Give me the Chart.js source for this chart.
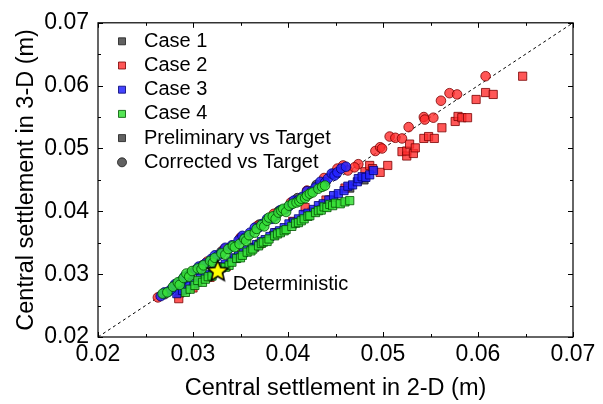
<!DOCTYPE html>
<html>
<head>
<meta charset="utf-8">
<script src="https://cdn.jsdelivr.net/npm/chart.js@4.4.1/dist/chart.umd.min.js"></script>
<style>
  body { margin: 0; background: #fff; }
  canvas { display: block; }
</style>
</head>
<body>
<canvas id="chart" width="603" height="404"></canvas>
<script>
  // [2-D settlement, 3-D settlement] pairs, in metres
  const case1Pre = [[0.0286,0.0270],[0.0305,0.0288],[0.0325,0.0306],[0.0345,0.0325],[0.0365,0.0343],[0.0385,0.0362],[0.0405,0.0380],[0.0425,0.0399],[0.0445,0.0418],[0.0465,0.0437],[0.0480,0.0450]];
  const case1Cor = [[0.0270,0.0268],[0.0290,0.0291],[0.0310,0.0314],[0.0330,0.0336],[0.0350,0.0357],[0.0370,0.0379],[0.0390,0.0400],[0.0410,0.0421],[0.0430,0.0442],[0.0448,0.0460]];

  const case2Pre = [[0.0285,0.0261],[0.0300,0.0278],[0.0318,0.0295],[0.0335,0.0312],[0.0351,0.0332],[0.0370,0.0348],[0.0388,0.0366],[0.0405,0.0384],[0.0418,0.0406],[0.0440,0.0418],[0.0460,0.0437],[0.0481,0.0463],[0.0486,0.0473],[0.0489,0.0468],[0.0497,0.0462],[0.0505,0.0473],[0.0520,0.0495],[0.0525,0.0488],[0.0525,0.0496],[0.0528,0.0507],[0.0532,0.0492],[0.0534,0.0501],[0.0543,0.0516],[0.0548,0.0519],[0.0554,0.0516],[0.0562,0.0533],[0.0576,0.0543],[0.0579,0.0551],[0.0583,0.0549],[0.0589,0.0549],[0.0598,0.0578],[0.0608,0.0589],[0.0616,0.0586],[0.0647,0.0615]];
  const case2Cor = [[0.0263,0.0263],[0.0280,0.0281],[0.0298,0.0302],[0.0315,0.0320],[0.0333,0.0340],[0.0350,0.0358],[0.0368,0.0377],[0.0385,0.0396],[0.0403,0.0414],[0.0420,0.0433],[0.0438,0.0453],[0.0452,0.0468],[0.0458,0.0473],[0.0463,0.0465],[0.0474,0.0475],[0.0470,0.0470],[0.0492,0.0496],[0.0497,0.0502],[0.0499,0.0500],[0.0507,0.0519],[0.0513,0.0517],[0.0520,0.0516],[0.0527,0.0534],[0.0543,0.0550],[0.0544,0.0546],[0.0553,0.0549],[0.0561,0.0576],[0.0570,0.0588],[0.0578,0.0586],[0.0608,0.0615]];

  const case3Pre = [[0.0283,0.0269],[0.0289,0.0274],[0.0293,0.0276],[0.0296,0.0281],[0.0301,0.0285],[0.0308,0.0293],[0.0313,0.0297],[0.0317,0.0299],[0.0321,0.0304],[0.0326,0.0309],[0.0330,0.0312],[0.0334,0.0316],[0.0340,0.0321],[0.0344,0.0326],[0.0348,0.0329],[0.0353,0.0334],[0.0357,0.0338],[0.0362,0.0342],[0.0367,0.0347],[0.0372,0.0352],[0.0376,0.0355],[0.0381,0.0360],[0.0386,0.0366],[0.0391,0.0369],[0.0396,0.0374],[0.0401,0.0380],[0.0406,0.0383],[0.0411,0.0388],[0.0416,0.0395],[0.0421,0.0397],[0.0427,0.0403],[0.0432,0.0409],[0.0437,0.0412],[0.0443,0.0418],[0.0448,0.0425],[0.0453,0.0428],[0.0459,0.0433],[0.0463,0.0440],[0.0468,0.0442],[0.0473,0.0447],[0.0474,0.0452],[0.0478,0.0455],[0.0482,0.0454],[0.0486,0.0458],[0.0490,0.0465]];
  const case3Cor = [[0.0266,0.0265],[0.0270,0.0271],[0.0274,0.0272],[0.0277,0.0276],[0.0281,0.0284],[0.0284,0.0285],[0.0288,0.0290],[0.0291,0.0296],[0.0295,0.0298],[0.0297,0.0300],[0.0303,0.0307],[0.0306,0.0312],[0.0309,0.0311],[0.0313,0.0317],[0.0319,0.0324],[0.0323,0.0330],[0.0326,0.0329],[0.0330,0.0334],[0.0334,0.0342],[0.0338,0.0341],[0.0341,0.0346],[0.0348,0.0354],[0.0352,0.0361],[0.0355,0.0358],[0.0360,0.0366],[0.0365,0.0374],[0.0369,0.0374],[0.0373,0.0380],[0.0378,0.0388],[0.0383,0.0388],[0.0387,0.0393],[0.0392,0.0402],[0.0397,0.0403],[0.0401,0.0408],[0.0406,0.0417],[0.0411,0.0418],[0.0415,0.0423],[0.0420,0.0432],[0.0425,0.0432],[0.0429,0.0438],[0.0434,0.0447],[0.0439,0.0446],[0.0442,0.0452],[0.0446,0.0460],[0.0449,0.0457],[0.0452,0.0462],[0.0456,0.0468],[0.0461,0.0471]];

  const case4Pre = [[0.0292,0.0271],[0.0297,0.0276],[0.0302,0.0282],[0.0305,0.0290],[0.0310,0.0287],[0.0313,0.0292],[0.0316,0.0296],[0.0320,0.0297],[0.0327,0.0304],[0.0330,0.0310],[0.0334,0.0311],[0.0338,0.0314],[0.0341,0.0319],[0.0346,0.0325],[0.0350,0.0326],[0.0352,0.0330],[0.0357,0.0335],[0.0361,0.0337],[0.0363,0.0340],[0.0369,0.0345],[0.0372,0.0349],[0.0374,0.0351],[0.0378,0.0352],[0.0380,0.0356],[0.0386,0.0361],[0.0389,0.0364],[0.0392,0.0366],[0.0396,0.0369],[0.0398,0.0371],[0.0404,0.0376],[0.0408,0.0381],[0.0411,0.0382],[0.0414,0.0385],[0.0417,0.0388],[0.0421,0.0392],[0.0423,0.0393],[0.0429,0.0398],[0.0432,0.0401],[0.0435,0.0402],[0.0438,0.0407],[0.0441,0.0406],[0.0444,0.0411],[0.0447,0.0409],[0.0450,0.0413],[0.0455,0.0412],[0.0460,0.0415],[0.0465,0.0417]];
  const case4Cor = [[0.0268,0.0269],[0.0273,0.0271],[0.0279,0.0280],[0.0284,0.0287],[0.0286,0.0283],[0.0290,0.0294],[0.0293,0.0301],[0.0296,0.0296],[0.0299,0.0305],[0.0305,0.0309],[0.0309,0.0308],[0.0311,0.0314],[0.0318,0.0321],[0.0321,0.0318],[0.0323,0.0326],[0.0330,0.0333],[0.0334,0.0331],[0.0337,0.0340],[0.0342,0.0345],[0.0344,0.0343],[0.0349,0.0348],[0.0354,0.0356],[0.0356,0.0353],[0.0359,0.0362],[0.0365,0.0366],[0.0367,0.0372],[0.0372,0.0378],[0.0375,0.0376],[0.0378,0.0385],[0.0380,0.0390],[0.0384,0.0392],[0.0387,0.0388],[0.0390,0.0398],[0.0393,0.0401],[0.0395,0.0404],[0.0398,0.0399],[0.0401,0.0409],[0.0405,0.0412],[0.0409,0.0414],[0.0412,0.0416],[0.0414,0.0420],[0.0418,0.0421],[0.0420,0.0425],[0.0423,0.0428],[0.0426,0.0430],[0.0432,0.0436],[0.0436,0.0439],[0.0439,0.0441]];

  const deterministic = [[0.0326, 0.0306]];
  const oneToOne = [[0.02, 0.02], [0.07, 0.07]];

  const axisMin = 0.02;
  const axisMax = 0.07;
  const axisStep = 0.01;

  const legendLabels = ["Case 1", "Case 2", "Case 3", "Case 4", "Preliminary vs Target", "Corrected vs Target"];

  const FONT = "'Liberation Sans', Arial, sans-serif";

  const colors = {
    c1: { fill: "rgba(80,80,80,0.9)", line: "#1a1a1a" },
    c2: { fill: "rgba(255,45,45,0.8)", line: "#7a0000" },
    c3: { fill: "rgba(35,35,255,0.85)", line: "#00006e" },
    c4: { fill: "rgba(55,225,55,0.85)", line: "#005200" }
  };

  function pts(arr) {
    return arr.map(([x, y]) => ({ x, y }));
  }

  function series(label, arr, col, shape, order) {
    return {
      label: label,
      data: pts(arr),
      backgroundColor: col.fill,
      borderColor: col.line,
      borderWidth: 0.8,
      pointStyle: shape,
      pointRadius: shape === "rect" ? 5.8 : 4.8,
      order: order
    };
  }

  // filled yellow star used as the marker of the deterministic point
  function makeStar(r) {
    const c = document.createElement("canvas");
    const s = Math.ceil(r * 2 + 4);
    c.width = s;
    c.height = s;
    const g = c.getContext("2d");
    g.beginPath();
    for (let i = 0; i < 10; i++) {
      const rr = i % 2 ? r * 0.45 : r;
      const ang = -Math.PI / 2 + i * Math.PI / 5;
      g.lineTo(s / 2 + rr * Math.cos(ang), s / 2 + 1 + rr * Math.sin(ang));
    }
    g.closePath();
    g.fillStyle = "#ffff00";
    g.fill();
    g.lineWidth = 1.6;
    g.strokeStyle = "#000";
    g.stroke();
    return c;
  }

  // box frame with inward ticks (major + minor) on all four sides
  const framePlugin = {
    id: "frame",
    afterDatasetsDraw(chart) {
      const { ctx, chartArea: a, scales: { x, y } } = chart;
      ctx.save();
      ctx.strokeStyle = "#000";
      ctx.lineWidth = 1.2;
      ctx.strokeRect(a.left, a.top, a.right - a.left, a.bottom - a.top);

      ctx.lineWidth = 1;
      ctx.beginPath();
      const xv = x.ticks.map(t => t.value);
      xv.forEach((v, i) => {
        const px = Math.round(x.getPixelForValue(v)) + 0.5;
        ctx.moveTo(px, a.bottom); ctx.lineTo(px, a.bottom - 5);
        ctx.moveTo(px, a.top); ctx.lineTo(px, a.top + 5);
        if (i < xv.length - 1) {
          const mx = Math.round(x.getPixelForValue((v + xv[i + 1]) / 2)) + 0.5;
          ctx.moveTo(mx, a.bottom); ctx.lineTo(mx, a.bottom - 3);
          ctx.moveTo(mx, a.top); ctx.lineTo(mx, a.top + 3);
        }
      });
      const yv = y.ticks.map(t => t.value);
      yv.forEach((v, i) => {
        const py = Math.round(y.getPixelForValue(v)) + 0.5;
        ctx.moveTo(a.left, py); ctx.lineTo(a.left + 5, py);
        ctx.moveTo(a.right, py); ctx.lineTo(a.right - 5, py);
        if (i < yv.length - 1) {
          const my = Math.round(y.getPixelForValue((v + yv[i + 1]) / 2)) + 0.5;
          ctx.moveTo(a.left, my); ctx.lineTo(a.left + 3, my);
          ctx.moveTo(a.right, my); ctx.lineTo(a.right - 3, my);
        }
      });
      ctx.stroke();
      ctx.restore();
    }
  };

  // legend drawn inside the plot, plus the "Deterministic" note
  const notesPlugin = {
    id: "notes",
    afterDraw(chart) {
      const { ctx, chartArea: a, scales: { x, y } } = chart;
      const markers = [
        [colors.c1, "rect"], [colors.c2, "rect"], [colors.c3, "rect"],
        [colors.c4, "rect"], [colors.c1, "rect"], [colors.c1, "circle"]
      ];
      ctx.save();
      ctx.font = "20px " + FONT;
      ctx.textBaseline = "middle";
      ctx.textAlign = "left";
      legendLabels.forEach((text, i) => {
        const cy = a.top + 18.5 + i * 24.2;
        const cx = a.left + 24;
        const [col, shape] = markers[i];
        ctx.fillStyle = col.fill;
        ctx.strokeStyle = col.line;
        ctx.lineWidth = 0.8;
        ctx.beginPath();
        if (shape === "rect") ctx.rect(cx - 3.5, cy - 3.5, 7, 7);
        else ctx.arc(cx, cy, 4.5, 0, Math.PI * 2);
        ctx.fill();
        ctx.stroke();
        ctx.fillStyle = "#000";
        ctx.fillText(text, a.left + 46, cy);
      });

      const sx = x.getPixelForValue(deterministic[0][0]);
      const sy = y.getPixelForValue(deterministic[0][1]);
      ctx.fillText("Deterministic", sx + 15, sy + 14);
      ctx.restore();
    }
  };

  const datasets = [
    {
      type: "line",
      label: "1:1",
      data: pts(oneToOne),
      borderColor: "#000",
      borderWidth: 1,
      borderDash: [3, 3],
      pointRadius: 0,
      order: 20
    },
    series("Case 1 preliminary", case1Pre, colors.c1, "rect", 19),
    series("Case 1 corrected", case1Cor, colors.c1, "circle", 18),
    series("Case 2 preliminary", case2Pre, colors.c2, "rect", 17),
    series("Case 2 corrected", case2Cor, colors.c2, "circle", 16),
    series("Case 3 preliminary", case3Pre, colors.c3, "rect", 15),
    series("Case 3 corrected", case3Cor, colors.c3, "circle", 14),
    series("Case 4 preliminary", case4Pre, colors.c4, "rect", 13),
    series("Case 4 corrected", case4Cor, colors.c4, "circle", 12),
    {
      label: "Deterministic",
      data: pts(deterministic),
      pointStyle: makeStar(11),
      pointRadius: 12,
      order: 0
    }
  ];

  const tickFont = { family: FONT, size: 23 };
  const titleFont = { family: FONT, size: 23.5 };

  new Chart(document.getElementById("chart"), {
    type: "scatter",
    data: { datasets: datasets },
    plugins: [framePlugin, notesPlugin],
    options: {
      responsive: false,
      animation: false,
      events: [],
      layout: { padding: { top: 10, right: 30, left: 0, bottom: 0 } },
      plugins: {
        legend: { display: false },
        tooltip: { enabled: false }
      },
      scales: {
        x: {
          type: "linear",
          min: axisMin,
          max: axisMax,
          grid: { display: false, drawTicks: false },
          border: { display: false },
          ticks: {
            stepSize: axisStep,
            padding: 4,
            color: "#000",
            font: tickFont,
            maxRotation: 0,
            callback: v => v.toFixed(2)
          },
          title: {
            display: true,
            text: "Central settlement in 2-D (m)",
            color: "#000",
            font: titleFont,
            padding: 1
          },
          afterFit: s => { s.height = 67; }
        },
        y: {
          type: "linear",
          min: axisMin,
          max: axisMax,
          grid: { display: false, drawTicks: false },
          border: { display: false },
          ticks: {
            stepSize: axisStep,
            padding: 9,
            color: "#000",
            font: tickFont,
            callback: v => v.toFixed(2)
          },
          title: {
            display: true,
            text: "Central settlement in 3-D (m)",
            color: "#000",
            font: titleFont,
            padding: { top: 12, bottom: 0 }
          },
          afterFit: s => { s.width = 98; }
        }
      }
    }
  });
</script>
</body>
</html>
